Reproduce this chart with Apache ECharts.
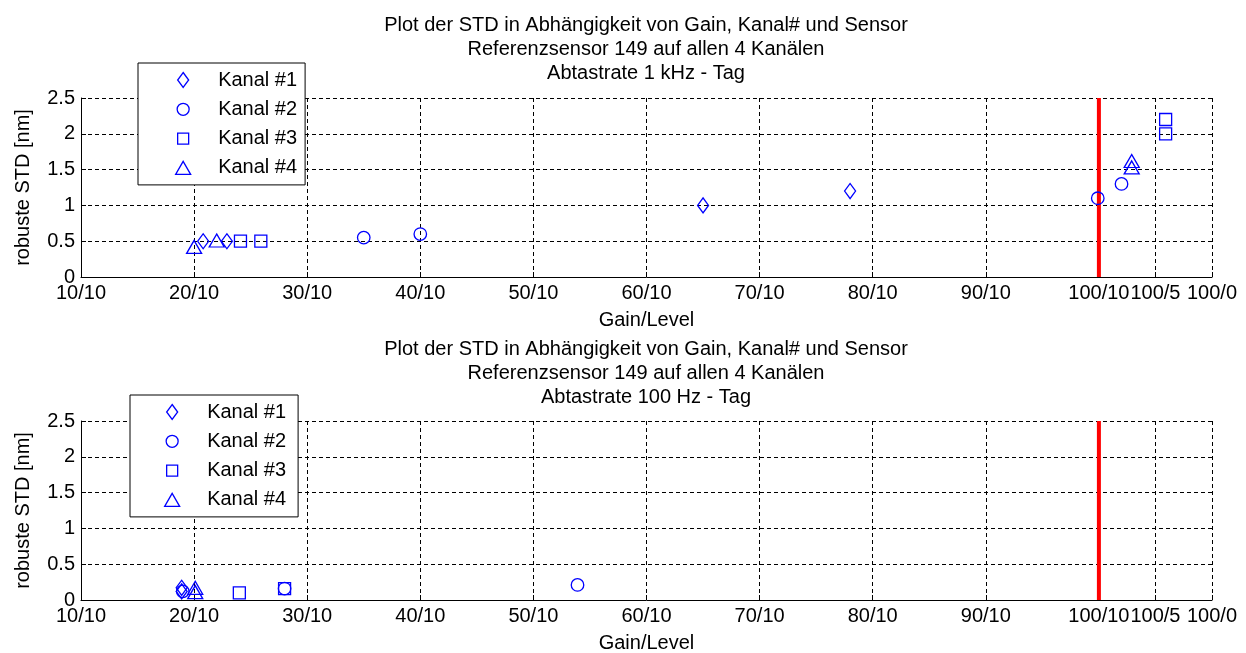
<!DOCTYPE html>
<html>
<head>
<meta charset="utf-8">
<script src="https://cdn.jsdelivr.net/npm/echarts@6/dist/echarts.min.js"></script>
<style>
html,body{margin:0;padding:0;background:#fff;}
#chart{width:1246px;height:653px;}
</style>
</head>
<body>
<div id="chart"></div>
<script>
// ---- data ----
var xTickValues = [10, 20, 30, 40, 50, 60, 70, 80, 90, 100, 105, 110];
var xTickLabels = ['10/10', '20/10', '30/10', '40/10', '50/10', '60/10', '70/10', '80/10', '90/10', '100/10', '100/5', '100/0'];
var seriesNames = ['Kanal #1', 'Kanal #2', 'Kanal #3', 'Kanal #4'];
var titles = [
  'Plot der STD in Abhängigkeit von Gain, Kanal# und Sensor\nReferenzsensor 149 auf allen 4 Kanälen\nAbtastrate 1 kHz - Tag',
  'Plot der STD in Abhängigkeit von Gain, Kanal# und Sensor\nReferenzsensor 149 auf allen 4 Kanälen\nAbtastrate 100 Hz - Tag'
];
// 1 kHz
var k1_1k = [[20.8, 0.5], [22.9, 0.5], [65, 1.0], [78, 1.2]];
var k2_1k = [[35, 0.55], [40, 0.6], [99.9, 1.1], [102, 1.3]];
var k3_1k = [[24.1, 0.5], [25.9, 0.5], [105.9, 2.2], [105.9, 2.0]];
var k4_1k = [[20, 0.42], [22, 0.51], [102.9, 1.62], [102.9, 1.53]];
// 100 Hz
var k1_100 = [[18.9, 0.17], [18.9, 0.12]];
var k2_100 = [[19, 0.12], [28, 0.16], [53.9, 0.21]];
var k3_100 = [[24, 0.1], [28, 0.16]];
var k4_100 = [[20.1, 0.17], [20.1, 0.11]];
var refLine = [[100, 0], [100, 2.5]];

var FONT = '"Liberation Sans", Arial, sans-serif';
var BLUE = '#0000ff';
var symbols = ['diamond', 'circle', 'rect', 'triangle'];
var symbolSizes = [[11, 15], 12.5, 12, [15, 13]];
// legend icons share a 15x15 bounding box (leading moveTo points) so their sizes stay distinct
var legendIcons = [
  'path://M0 0 M15 15 M7.5 0 L13 7.5 L7.5 15 L2 7.5 Z',
  'path://M0 0 M15 15 M1.5 7.5 A6 6 0 1 1 13.5 7.5 A6 6 0 1 1 1.5 7.5 Z',
  'path://M0 0 M15 15 M2 2 L13 2 L13 13 L2 13 Z',
  'path://M0 0 M15 15 M7.5 1 L15 14 L0 14 Z'
];

function xAxisCfg(gi) {
  return {
    gridIndex: gi, type: 'value', min: 10, max: 110,
    axisLine: {show: true, onZero: false, lineStyle: {color: '#000', width: 1}},
    axisTick: {show: true, inside: true, length: 5, customValues: xTickValues, lineStyle: {color: '#000'}},
    axisLabel: {
      show: true, customValues: xTickValues, color: '#000', fontSize: 20, fontFamily: FONT, margin: 6,
      formatter: function (v) {
        for (var i = 0; i < xTickValues.length; i++) {
          if (Math.abs(xTickValues[i] - v) < 1e-6) return xTickLabels[i];
        }
        return '';
      }
    },
    splitLine: {show: true, showMinLine: true, showMaxLine: true, lineStyle: {color: '#000', width: 1, type: [4, 3]}},
    name: 'Gain/Level', nameLocation: 'middle', nameGap: 33,
    nameTextStyle: {color: '#000', fontSize: 20, fontFamily: FONT}
  };
}
function yAxisCfg(gi) {
  return {
    gridIndex: gi, type: 'value', min: 0, max: 2.5, interval: 0.5,
    axisLine: {show: true, onZero: false, lineStyle: {color: '#000', width: 1}},
    axisTick: {show: true, inside: true, length: 5, lineStyle: {color: '#000'}},
    axisLabel: {show: true, color: '#000', fontSize: 20, fontFamily: FONT, margin: 6},
    splitLine: {show: true, showMinLine: true, showMaxLine: true, lineStyle: {color: '#000', width: 1, type: [4, 3]}},
    name: 'robuste STD [nm]', nameLocation: 'middle', nameGap: 48, nameRotate: 90,
    nameTextStyle: {color: '#000', fontSize: 20, fontFamily: FONT}
  };
}
function scatterSeries(gi, idx, data) {
  return {
    type: 'scatter', name: seriesNames[idx], xAxisIndex: gi, yAxisIndex: gi,
    data: data, symbol: symbols[idx], symbolSize: symbolSizes[idx], z: 4,
    itemStyle: {color: 'rgba(255,255,255,0)', borderColor: BLUE, borderWidth: 1.3, opacity: 1},
    emphasis: {disabled: true}, silent: true
  };
}
function refSeries(gi) {
  return {
    type: 'line', name: 'ref', xAxisIndex: gi, yAxisIndex: gi, data: refLine,
    symbol: 'none', lineStyle: {color: '#ff0000', width: 4}, z: 3, silent: true
  };
}
function legendCfg(left, top, padLeft, padRight) {
  return {
    left: left, top: top, orient: 'vertical', selectedMode: false,
    padding: [7, padRight, 7, padLeft], itemGap: 9.3, itemWidth: 60, itemHeight: 15,
    backgroundColor: '#fff', borderColor: '#000', borderWidth: 1,
    itemStyle: {borderWidth: 1.3},
    textStyle: {color: '#000', fontSize: 20, fontFamily: FONT, lineHeight: 20},
    data: seriesNames.map(function (n, i) { return {name: n, icon: legendIcons[i]}; })
  };
}

var chart = echarts.init(document.getElementById('chart'), null, {renderer: 'canvas'});
chart.setOption({
  animation: false,
  backgroundColor: '#fff',
  textStyle: {fontFamily: FONT},
  title: [
    {text: titles[0], left: 646, top: 13, padding: 0, textAlign: 'center',
     textStyle: {color: '#000', fontSize: 20, fontWeight: 'normal', fontFamily: FONT, lineHeight: 24}},
    {text: titles[1], left: 646, top: 337, padding: 0, textAlign: 'center',
     textStyle: {color: '#000', fontSize: 20, fontWeight: 'normal', fontFamily: FONT, lineHeight: 24}}
  ],
  legend: [legendCfg(138, 63, 37, 8), legendCfg(130, 395, 34, 12)],
  grid: [
    {left: 81, right: 34, top: 98, height: 179, containLabel: false, outerBoundsMode: 'none'},
    {left: 81, right: 34, top: 421, height: 179, containLabel: false, outerBoundsMode: 'none'}
  ],
  xAxis: [xAxisCfg(0), xAxisCfg(1)],
  yAxis: [yAxisCfg(0), yAxisCfg(1)],
  series: [
    refSeries(0), refSeries(1),
    scatterSeries(0, 0, k1_1k), scatterSeries(0, 1, k2_1k), scatterSeries(0, 2, k3_1k), scatterSeries(0, 3, k4_1k),
    scatterSeries(1, 0, k1_100), scatterSeries(1, 1, k2_100), scatterSeries(1, 2, k3_100), scatterSeries(1, 3, k4_100)
  ]
});
</script>
</body>
</html>
